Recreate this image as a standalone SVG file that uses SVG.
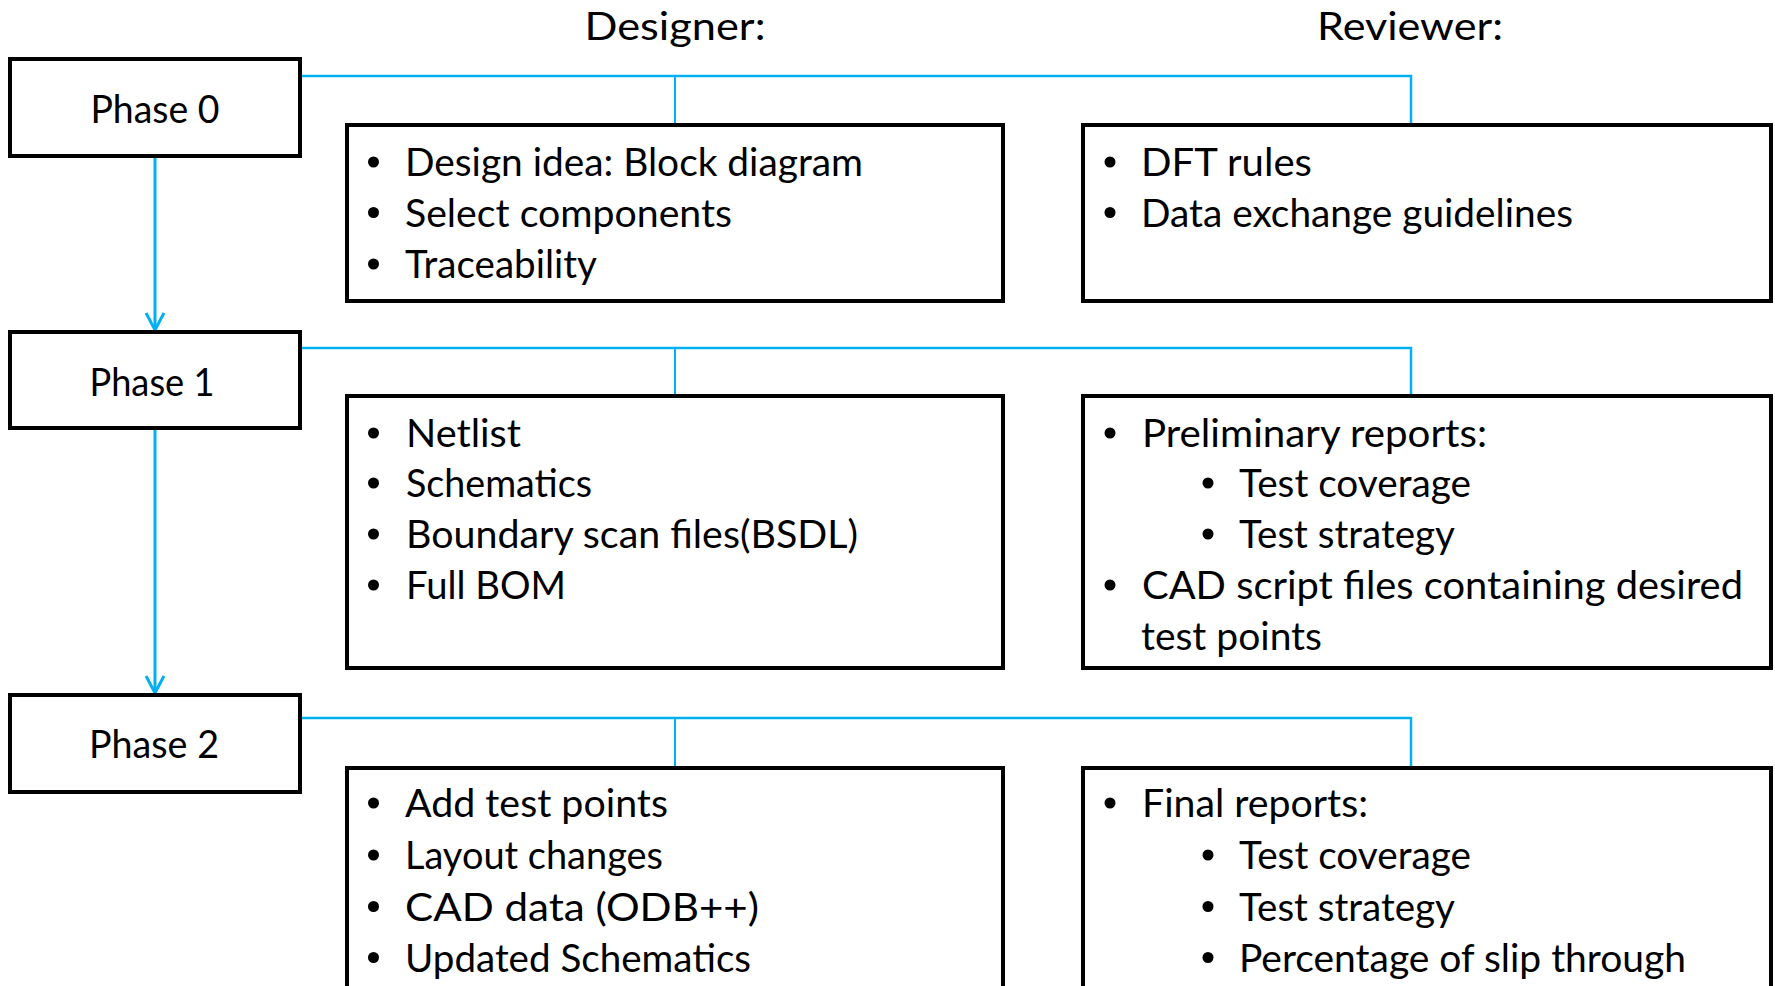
<svg xmlns="http://www.w3.org/2000/svg" width="1775" height="986" viewBox="0 0 1775 986">
  <defs>
    <style>
      .box { fill: #ffffff; stroke: #000000; stroke-width: 4; }
      .link { fill: none; stroke: #00B0F0; stroke-width: 2.5; }
      .drop { fill: none; stroke: #00B0F0; stroke-width: 2; }
      .flow { fill: none; stroke: #00B0F0; stroke-width: 3; }
      text { font-family: "Lato", "Open Sans", sans-serif; font-size: 38px; fill: #000000; }
      .head { text-anchor: middle; }
      .phase { text-anchor: middle; }
      .dot { fill: #000000; }
    </style>
    <marker id="arrow" viewBox="0 0 20 20" refX="18" refY="10" markerWidth="20" markerHeight="20" markerUnits="userSpaceOnUse" orient="auto">
      <path d="M 1 1 L 18 10 L 1 19" fill="none" stroke="#00B0F0" stroke-width="3"/>
    </marker>
  </defs>

  <rect width="1775" height="986" fill="#ffffff"/>

  <!-- column headings -->
  <g id="headings">
    <text class="head" x="675" y="40" textLength="181" lengthAdjust="spacingAndGlyphs">Designer:</text>
    <text class="head" x="1410" y="40" textLength="186" lengthAdjust="spacingAndGlyphs">Reviewer:</text>
  </g>

  <!-- connectors -->
  <g id="connectors">
    <polyline class="link" points="300,76 1411,76 1411,125"/>
    <line class="drop" x1="675" y1="76" x2="675" y2="125"/>
    <polyline class="link" points="300,348 1411,348 1411,396"/>
    <line class="drop" x1="675" y1="348" x2="675" y2="396"/>
    <polyline class="link" points="300,718 1411,718 1411,768"/>
    <line class="drop" x1="675" y1="718" x2="675" y2="768"/>
    <line class="flow" x1="155" y1="158" x2="155" y2="330" marker-end="url(#arrow)"/>
    <line class="flow" x1="155" y1="430" x2="155" y2="693" marker-end="url(#arrow)"/>
  </g>

  <!-- phase boxes -->
  <g id="phase0">
    <rect class="box" x="10" y="59" width="290" height="97"/>
    <text class="phase" x="155" y="123" textLength="129" lengthAdjust="spacingAndGlyphs">Phase 0</text>
  </g>
  <g id="phase1">
    <rect class="box" x="10" y="332" width="290" height="96"/>
    <text class="phase" x="152" y="396" textLength="125" lengthAdjust="spacingAndGlyphs">Phase 1</text>
  </g>
  <g id="phase2">
    <rect class="box" x="10" y="695" width="290" height="97"/>
    <text class="phase" x="154" y="758" textLength="130" lengthAdjust="spacingAndGlyphs">Phase 2</text>
  </g>

  <!-- designer tasks, phase 0 -->
  <g id="designer0">
    <rect class="box" x="347" y="125" width="656" height="176"/>
    <circle class="dot" cx="373.5" cy="162" r="5.5"/>
    <text x="405" y="176" textLength="458" lengthAdjust="spacingAndGlyphs">Design idea: Block diagram</text>
    <circle class="dot" cx="373.5" cy="212.5" r="5.5"/>
    <text x="405" y="226.5" textLength="327" lengthAdjust="spacingAndGlyphs">Select components</text>
    <circle class="dot" cx="373.5" cy="264" r="5.5"/>
    <text x="405" y="278" textLength="192" lengthAdjust="spacingAndGlyphs">Traceability</text>
  </g>

  <!-- reviewer tasks, phase 0 -->
  <g id="reviewer0">
    <rect class="box" x="1083" y="125" width="688" height="176"/>
    <circle class="dot" cx="1110" cy="162" r="5.5"/>
    <text x="1141" y="176" textLength="171" lengthAdjust="spacingAndGlyphs">DFT rules</text>
    <circle class="dot" cx="1110" cy="212.5" r="5.5"/>
    <text x="1141" y="226.5" textLength="432" lengthAdjust="spacingAndGlyphs">Data exchange guidelines</text>
  </g>

  <!-- designer tasks, phase 1 -->
  <g id="designer1">
    <rect class="box" x="347" y="396" width="656" height="272"/>
    <circle class="dot" cx="373.5" cy="433" r="5.5"/>
    <text x="406" y="447" textLength="115" lengthAdjust="spacingAndGlyphs">Netlist</text>
    <circle class="dot" cx="373.5" cy="483" r="5.5"/>
    <text x="406" y="497" textLength="186" lengthAdjust="spacingAndGlyphs">Schematics</text>
    <circle class="dot" cx="373.5" cy="534" r="5.5"/>
    <text x="406" y="548" textLength="452" lengthAdjust="spacingAndGlyphs">Boundary scan files(BSDL)</text>
    <circle class="dot" cx="373.5" cy="585" r="5.5"/>
    <text x="406" y="599" textLength="160" lengthAdjust="spacingAndGlyphs">Full BOM</text>
  </g>

  <!-- reviewer tasks, phase 1 -->
  <g id="reviewer1">
    <rect class="box" x="1083" y="396" width="688" height="272"/>
    <circle class="dot" cx="1110" cy="433" r="5.5"/>
    <text x="1142" y="447" textLength="345" lengthAdjust="spacingAndGlyphs">Preliminary reports:</text>
    <circle class="dot" cx="1208" cy="483" r="5.5"/>
    <text x="1239" y="497" textLength="232" lengthAdjust="spacingAndGlyphs">Test coverage</text>
    <circle class="dot" cx="1208" cy="534" r="5.5"/>
    <text x="1239" y="548" textLength="216" lengthAdjust="spacingAndGlyphs">Test strategy</text>
    <circle class="dot" cx="1110" cy="585" r="5.5"/>
    <text x="1142" y="599" textLength="601" lengthAdjust="spacingAndGlyphs">CAD script files containing desired</text>
    <text x="1141" y="650" textLength="181" lengthAdjust="spacingAndGlyphs">test points</text>
  </g>

  <!-- designer tasks, phase 2 -->
  <g id="designer2">
    <rect class="box" x="347" y="768" width="656" height="240"/>
    <circle class="dot" cx="373.5" cy="803" r="5.5"/>
    <text x="405" y="817" textLength="263" lengthAdjust="spacingAndGlyphs">Add test points</text>
    <circle class="dot" cx="373.5" cy="855" r="5.5"/>
    <text x="405" y="869" textLength="258" lengthAdjust="spacingAndGlyphs">Layout changes</text>
    <circle class="dot" cx="373.5" cy="906.5" r="5.5"/>
    <text x="405" y="920.5" textLength="354" lengthAdjust="spacingAndGlyphs">CAD data (ODB++)</text>
    <circle class="dot" cx="373.5" cy="957.5" r="5.5"/>
    <text x="405" y="971.5" textLength="346" lengthAdjust="spacingAndGlyphs">Updated Schematics</text>
  </g>

  <!-- reviewer tasks, phase 2 -->
  <g id="reviewer2">
    <rect class="box" x="1083" y="768" width="688" height="240"/>
    <circle class="dot" cx="1110" cy="803" r="5.5"/>
    <text x="1142" y="817" textLength="226" lengthAdjust="spacingAndGlyphs">Final reports:</text>
    <circle class="dot" cx="1208" cy="855" r="5.5"/>
    <text x="1239" y="869" textLength="232" lengthAdjust="spacingAndGlyphs">Test coverage</text>
    <circle class="dot" cx="1208" cy="906.5" r="5.5"/>
    <text x="1239" y="920.5" textLength="216" lengthAdjust="spacingAndGlyphs">Test strategy</text>
    <circle class="dot" cx="1208" cy="957.5" r="5.5"/>
    <text x="1239" y="971.5" textLength="447" lengthAdjust="spacingAndGlyphs">Percentage of slip through</text>
  </g>
</svg>
